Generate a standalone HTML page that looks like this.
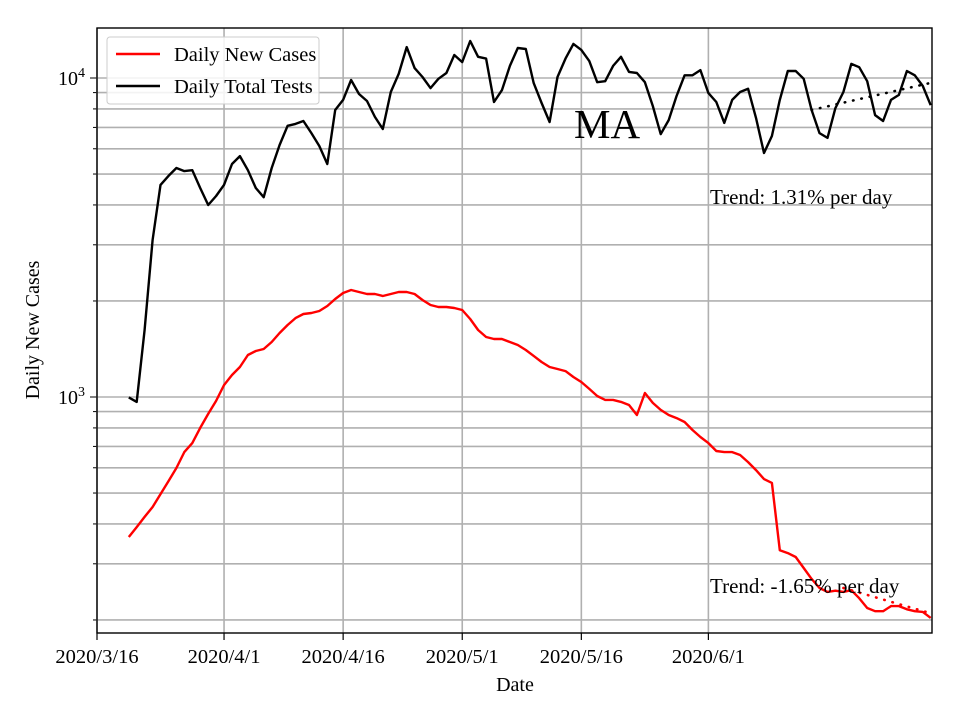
<!DOCTYPE html>
<html><head><meta charset="utf-8"><style>
body{margin:0;background:#fff;}
svg{display:block;font-family:"Liberation Serif",serif;}
</style></head><body>
<svg id="chart" width="960" height="720" xmlns="http://www.w3.org/2000/svg"></svg>
<script>
const startDay = 4;
const cases = [364,391,421,452,496,545,599,672,717,800,885,972,1090,1172,1242,1354,1394,1414,1487,1587,1681,1768,1820,1834,1860,1929,2029,2118,2165,2134,2103,2103,2073,2103,2134,2134,2103,2014,1943,1915,1915,1901,1874,1756,1622,1542,1520,1520,1487,1455,1404,1345,1287,1242,1224,1206,1155,1114,1060,1007,979,979,965,944,878,1029,958,911,878,859,835,788,749,717,677,672,672,658,625,590,553,538,331,324,315,291,269,252,245,247,245,248,234,218,213,213,221,221,216,213,212,203];
const tests = [997,965,1622,3105,4624,4932,5224,5105,5140,4520,3997,4267,4624,5375,5690,5140,4520,4230,5224,6166,7080,7180,7330,6720,6120,5375,7940,8540,9860,8910,8470,7550,6920,9040,10300,12500,10740,10070,9300,9940,10370,11810,11220,13060,11650,11500,8410,9160,10910,12420,12330,9640,8350,7280,10070,11500,12790,12250,11300,9700,9770,10910,11650,10450,10370,9700,8170,6670,7380,8790,10200,10200,10590,8970,8410,7230,8540,9040,9250,7500,5820,6580,8540,10520,10520,9940,7940,6720,6490,8050,9040,11070,10810,9770,7650,7330,8540,8850,10520,10200,9440,8220];
const testTrend = {start: 90, end: 105, v0: 7940, rate: 0.0131};
const caseTrend = {start: 94, end: 105, v0: 252, rate: -0.0165};
const xTickDays = [0,16,31,46,61,77];
const xTickLabels = ["2020/3/16","2020/4/1","2020/4/16","2020/5/1","2020/5/16","2020/6/1"];
const yMajor = [1000,10000];

const L=97,R=932,T=28,B=633;
const X=d=>L+d*7.94;
const Y=v=>397-319*(Math.log10(v)-3);
const NS="http://www.w3.org/2000/svg";
const svg=document.getElementById('chart');
function mk(tag,attrs,parent){const e=document.createElementNS(NS,tag);for(const k in attrs)e.setAttribute(k,attrs[k]);(parent||svg).appendChild(e);return e;}

const grid=mk('g',{});


for(let e=2;e<=4;e++){for(let m=1;m<10;m++){const v=m*Math.pow(10,e);const y=Y(v);if(y<T||y>B)continue;
  mk('line',{x1:L,x2:R,y1:y,y2:y,stroke:'#b0b0b0','stroke-width':1.6},grid);
  mk('line',{x1:L-(m==1?7:4),x2:L,y1:y,y2:y,stroke:'#000','stroke-width':1},grid);}}
xTickDays.forEach((d,i)=>{const x=X(d);
  mk('line',{x1:x,x2:x,y1:T,y2:B,stroke:'#b0b0b0','stroke-width':1.6},grid);
  mk('line',{x1:x,x2:x,y1:B,y2:B+7,stroke:'#000','stroke-width':1.2},grid);
  const t=mk('text',{x:x,y:B+30,'text-anchor':'middle','font-size':20.5});
  t.textContent=xTickLabels[i];
  
  
});
yMajor.forEach(v=>{const y=Y(v);const exp=Math.round(Math.log10(v));
  const t=mk('text',{x:L-12,y:y+7,'text-anchor':'end','font-size':20});
  t.textContent='10';
  const s=mk('tspan',{dy:-8,'font-size':14},t);s.textContent=exp;
  
  
});

function line(arr,color,name){
  const pts=arr.map((v,i)=>X(startDay+i).toFixed(1)+','+Y(v).toFixed(1)).join(' ');
  const p=mk('polyline',{points:pts,fill:'none',stroke:color,'stroke-width':2.4,'stroke-linejoin':'round'});
  
  
}
function trend(tr,color,name){
  const pts=[];for(let d=tr.start;d<=tr.end;d++)pts.push(X(d).toFixed(1)+','+Y(tr.v0*Math.pow(1+tr.rate,d-tr.start)).toFixed(1));
  const p=mk('polyline',{points:pts.join(' '),fill:'none',stroke:color,'stroke-width':2.6,'stroke-dasharray':'0.5,8','stroke-linecap':'round'});
  
  
}
line(cases,'#ff0000','daily-new-cases-line');
line(tests,'#000000','daily-total-tests-line');
trend(testTrend,'#000','tests-trend-line');
trend(caseTrend,'#ff0000','cases-trend-line');

const f=mk('rect',{x:L,y:T,width:R-L,height:B-T,fill:'none',stroke:'#000','stroke-width':1.4});



function txt(x,y,s,size,name,extra){const t=mk('text',Object.assign({x:x,y:y,'font-size':size},extra||{}));t.textContent=s;
  
  return t;}
txt(574,138,'MA',41,'chart-title');
txt(710,204,'Trend: 1.31% per day',21,'tests-trend-label');
txt(710,593,'Trend: -1.65% per day',21,'cases-trend-label');
txt(515,691,'Date',20,'x-axis-title',{'text-anchor':'middle'});
txt(39,330,'Daily New Cases',20,'y-axis-title',{'text-anchor':'middle',transform:'rotate(-90 39 330)'});

const lg=mk('g',{});


mk('rect',{x:107,y:37,width:212,height:67,rx:3,fill:'#fff','fill-opacity':0.85,stroke:'#ccc','stroke-width':1},lg);
mk('line',{x1:116,x2:160,y1:54,y2:54,stroke:'#ff0000','stroke-width':2.4},lg);
mk('line',{x1:116,x2:160,y1:86,y2:86,stroke:'#000','stroke-width':2.4},lg);
const l1=mk('text',{x:174,y:61,'font-size':20.5},lg);l1.textContent='Daily New Cases';


const l2=mk('text',{x:174,y:93,'font-size':20.5},lg);l2.textContent='Daily Total Tests';


</script>
</body></html>
